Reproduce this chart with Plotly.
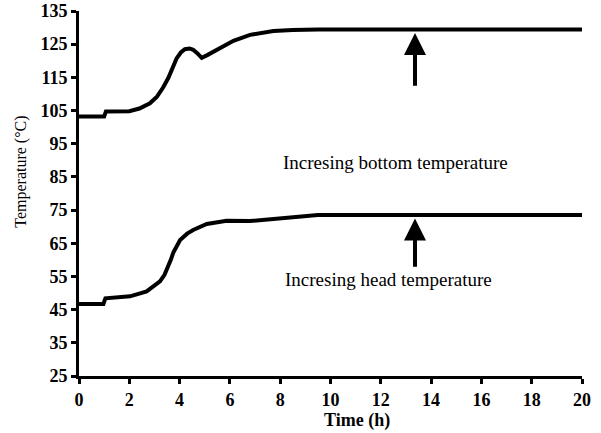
import plotly.graph_objects as go

# Time (h) and temperature (°C)
bottom_time = [0, 1.0, 1.07, 2.0, 2.4, 2.82, 3.1, 3.35, 3.55, 3.69, 3.88, 4.05, 4.21, 4.4,
               4.54, 4.7, 4.88, 5.1, 5.34, 5.7, 6.14, 6.8, 7.3, 7.73, 8.5, 9.5, 20]
bottom_temp = [103.2, 103.2, 104.7, 104.8, 105.6, 107.2, 109.2, 112, 114.8, 117.2, 120.7,
               122.5, 123.5, 123.7, 123.3, 122.3, 120.9, 121.7, 122.7, 124.5, 126, 127.8,
               128.5, 129.0, 129.3, 129.4, 129.4]

head_time = [0, 0.97, 1.05, 2.03, 2.69, 3.22, 3.4, 3.55, 3.65, 3.75, 4.02, 4.3, 4.54, 5.08,
             5.87, 6.8, 8.78, 9.5, 20]
head_temp = [46.7, 46.7, 48.4, 49.0, 50.5, 53.5, 55.5, 57.8, 60.0, 62.2, 66, 67.9, 69, 70.8,
             71.8, 71.7, 72.9, 73.5, 73.5]

x_ticks = [0, 2, 4, 6, 8, 10, 12, 14, 16, 18, 20]
y_ticks = [25, 35, 45, 55, 65, 75, 85, 95, 105, 115, 125, 135]

labels = ["Incresing bottom temperature", "Incresing head temperature"]
label_x = [12.6, 12.3]
label_y = [89.2, 54.0]
arrow_x = [13.36, 13.36]
arrow_tip = [128.4, 72.5]
arrow_tail = [112.0, 57.5]

FONT = "Liberation Serif"

fig = go.Figure()
fig.add_trace(go.Scatter(x=bottom_time, y=bottom_temp, mode="lines",
                         line=dict(color="black", width=4), showlegend=False))
fig.add_trace(go.Scatter(x=head_time, y=head_temp, mode="lines",
                         line=dict(color="black", width=4), showlegend=False))

for i in range(2):
    fig.add_annotation(x=arrow_x[i], y=arrow_tip[i], ax=arrow_x[i], ay=arrow_tail[i],
                       xref="x", yref="y", axref="x", ayref="y", text="",
                       showarrow=True, arrowhead=2, arrowsize=1.1, arrowwidth=4,
                       arrowcolor="black", standoff=0)
    fig.add_annotation(x=label_x[i], y=label_y[i], xref="x", yref="y", text=labels[i],
                       showarrow=False, font=dict(family=FONT, size=19, color="black"))

fig.add_annotation(x=11.05, y=-0.123, xref="x", yref="paper", text="<b>Time (h)</b>",
                   showarrow=False, xanchor="center", yanchor="middle",
                   font=dict(family=FONT, size=18, color="black"))
fig.add_annotation(x=-0.117, y=0.56, xref="paper", yref="paper", text="Temperature (°C)",
                   textangle=-90, showarrow=False, xanchor="center", yanchor="middle",
                   font=dict(family=FONT, size=16, color="black"))

axis_common = dict(showline=True, linecolor="black", linewidth=3, ticks="outside",
                   ticklen=5, tickwidth=3, tickcolor="black", showgrid=False,
                   zeroline=False, tickfont=dict(family=FONT, size=18, color="black"),
                   mirror=False, automargin=False, ticklabeloverflow="allow")
fig.update_xaxes(range=[0, 20], tickvals=x_ticks,
                 ticktext=[f"<b>{v}</b>" for v in x_ticks], **axis_common)
fig.update_yaxes(range=[25, 135], tickvals=y_ticks,
                 ticktext=[f"<b>{v}</b>" for v in y_ticks], **axis_common)

fig.update_layout(width=601, height=433, margin=dict(l=79, r=19, t=11, b=57),
                  plot_bgcolor="white", paper_bgcolor="white")

# remove the default page margin so the figure sits at the window's top-left corner
fig.write_html("out.html", config={"displayModeBar": False},
               post_script="document.body.style.margin='0';")
